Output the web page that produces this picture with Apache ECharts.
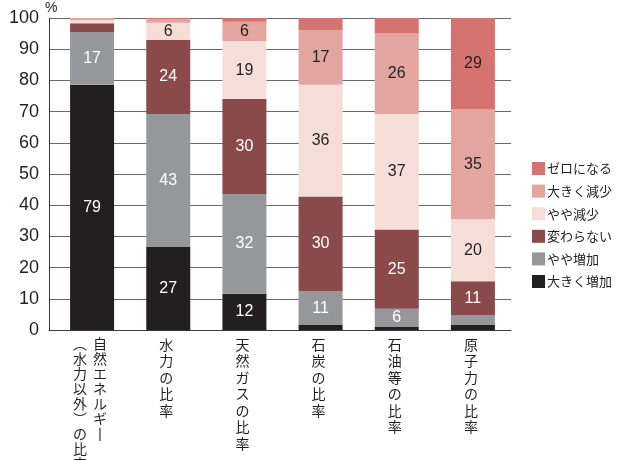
<!DOCTYPE html>
<html><head><meta charset="utf-8">
<script src="https://cdn.jsdelivr.net/npm/echarts@6/dist/echarts.min.js"></script>
<style>html,body{margin:0;padding:0;background:#fff}#c{width:625px;height:460px}</style>
</head><body><div id="c"></div>
<script>
const categories = ['自然エネルギー（水力以外）の比率', '水力の比率', '天然ガスの比率', '石炭の比率', '石油等の比率', '原子力の比率'];
const seriesNames = ['大きく増加', 'やや増加', '変わらない', 'やや減少', '大きく減少', 'ゼロになる'];
const bigIncrease = [78.6, 26.6, 11.6, 1.6, 1.0, 1.6];
const slightIncrease = [16.9, 42.6, 32.0, 10.8, 5.8, 3.2];
const noChange = [2.8, 23.8, 30.4, 30.4, 25.4, 10.8];
const slightDecrease = [1.0, 5.5, 18.6, 35.8, 37.0, 19.9];
const bigDecrease = [0.7, 1.0, 6.2, 17.4, 26.0, 35.3];
const zero = [0, 0.5, 1.2, 4.0, 4.8, 29.2];
const yTicks = [0, 10, 20, 30, 40, 50, 60, 70, 80, 90, 100];

const seriesData = [bigIncrease, slightIncrease, noChange, slightDecrease, bigDecrease, zero];
const colors = ['#231f20', '#96979b', '#8b4a4a', '#f5ddd8', '#e3a5a0', '#d4736f'];
const labelColors = ['#ffffff', '#ffffff', '#ffffff', '#231f20', '#231f20', '#231f20'];
const NUM_FONT = "'Liberation Sans', Arial, 'Noto Sans CJK JP', sans-serif";
const NARROW_FONT = "'Liberation Sans Narrow', 'Arial Narrow', 'Liberation Sans', sans-serif";
const JP_FONT = "'Noto Sans CJK JP', 'Liberation Sans', sans-serif";

function vert(ch) {
  if (ch === '（') return '︵';
  if (ch === '）') return '︶';
  if (ch === 'ー') return '丨';
  return ch;
}
function verticalLabel(name) {
  const i = name.indexOf('（');
  if (i < 0) {
    return Array.from(name).map(ch => '{c|' + vert(ch) + '}').join('\n');
  }
  const right = Array.from(name.slice(0, i));
  const left = Array.from(name.slice(i));
  const n = Math.max(left.length, right.length);
  const lines = [];
  for (let k = 0; k < n; k++) {
    const L = k < left.length ? vert(left[k]) : '　';
    const R = k < right.length ? vert(right[k]) : '　';
    lines.push('{d|' + L + '}{g| }{d|' + R + '}');
  }
  return lines.join('\n');
}

const yMin = yTicks[0], yMax = yTicks[yTicks.length - 1];

const chart = echarts.init(document.getElementById('c'));
chart.setOption({
  backgroundColor: '#ffffff',
  animation: false,
  textStyle: { fontFamily: JP_FONT },
  grid: [
    { left: 49, right: 114, top: 18, bottom: 130, containLabel: false, outerBoundsMode: 'none' },
    { left: 54, right: 114, top: 18, bottom: 130, containLabel: false, outerBoundsMode: 'none' }
  ],
  legend: {
    data: seriesNames.slice().reverse(),
    orient: 'vertical',
    left: 532, top: 162,
    padding: 0,
    itemWidth: 13, itemHeight: 13, itemGap: 9.6,
    icon: 'rect',
    textStyle: { fontFamily: JP_FONT, fontSize: 13, color: '#231f20', lineHeight: 13, padding: [0, 0, 0, -3] }
  },
  xAxis: [
    {
      type: 'category', gridIndex: 0, data: categories,
      axisLine: { show: true, lineStyle: { color: '#3a3a3a', width: 1 } },
      axisTick: { show: false }, axisLabel: { show: false }, splitLine: { show: false }
    },
    {
      type: 'category', gridIndex: 1, data: categories,
      axisLine: { show: false },
      axisTick: { show: false },
      splitLine: { show: false },
      axisLabel: {
        interval: 0,
        margin: 6,
        padding: [0, 4, 0, 0],
        color: '#231f20',
        verticalAlign: 'top',
        formatter: verticalLabel,
        rich: {
          c: { fontFamily: JP_FONT, fontSize: 14, lineHeight: 16.5, color: '#231f20', align: 'center' },
          d: { fontFamily: JP_FONT, fontSize: 14, lineHeight: 15, color: '#231f20' },
          g: { width: 6, fontSize: 14, lineHeight: 15 }
        }
      }
    }
  ],
  yAxis: [
    {
      type: 'value', gridIndex: 0,
      min: yMin, max: yMax, interval: 10,
      name: '%', nameLocation: 'end', nameGap: 3,
      nameMoveOverlap: false,
      nameTextStyle: { fontFamily: NUM_FONT, fontSize: 14, color: '#231f20', align: 'left', padding: [0, 0, 0, -4] },
      axisLine: { show: true, lineStyle: { color: '#3a3a3a', width: 1 } },
      axisTick: { show: false },
      splitLine: { show: true, lineStyle: { color: '#6a6a6a', width: 1 } },
      axisLabel: { fontFamily: NARROW_FONT, fontSize: 18, color: '#231f20', margin: 10 }
    },
    {
      type: 'value', gridIndex: 1,
      min: yMin, max: yMax, interval: 10,
      axisLine: { show: false }, axisTick: { show: false },
      splitLine: { show: false }, axisLabel: { show: false }
    }
  ],
  series: seriesNames.map((name, s) => ({
    name: name,
    type: 'bar',
    xAxisIndex: 1,
    yAxisIndex: 1,
    stack: 'total',
    barWidth: 44,
    data: seriesData[s],
    itemStyle: { color: colors[s] },
    label: {
      show: true,
      position: 'inside',
      fontFamily: NUM_FONT,
      fontSize: 16,
      color: labelColors[s],
      formatter: p => (p.value >= 5.5 ? String(Math.round(p.value)) : '')
    }
  }))
});
</script>
</body></html>
